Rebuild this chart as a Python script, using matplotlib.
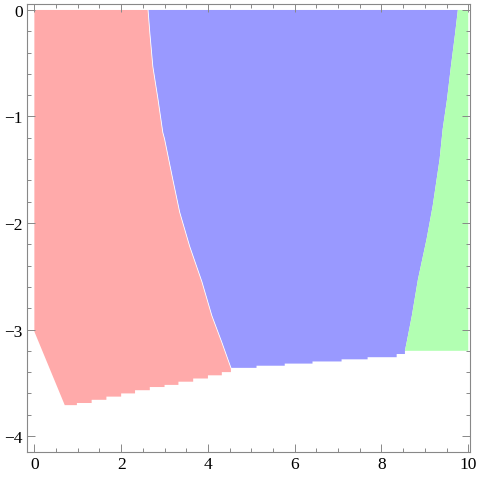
import numpy as np
import matplotlib.pyplot as plt
from matplotlib.ticker import MultipleLocator

# boundary between pink and blue regions (x at given y)
pb_y = [0.0, -0.21, -0.53, -0.84, -1.15, -1.21, -1.59, -1.90, -2.22, -2.55, -2.87, -3.12, -3.36]
pb_x = [2.62, 2.66, 2.73, 2.85, 2.96, 3.0, 3.19, 3.35, 3.58, 3.86, 4.09, 4.32, 4.53]

# boundary between blue and green regions
bg_y = [0.0, -0.21, -0.53, -0.84, -1.12, -1.40, -1.84, -2.15, -2.53, -2.87, -3.12, -3.2]
bg_x = [9.76, 9.70, 9.60, 9.51, 9.41, 9.34, 9.18, 9.04, 8.84, 8.70, 8.58, 8.54]

# left edge of pink region
pink_left_x = [0.0, 0.0, 0.70]
pink_left_y = [0.0, -3.02, -3.71]

# stair-stepped lower edges
pink_stair_x = [0.70, 0.98, 1.32, 1.66, 2.0, 2.32, 2.66, 3.0, 3.32, 3.66, 4.0, 4.32, 4.53]
pink_stair_y = [-3.71, -3.69, -3.66, -3.63, -3.60, -3.57, -3.54, -3.52, -3.49, -3.46, -3.43, -3.40, -3.37]
blue_stair_x = [4.53, 5.12, 5.77, 6.41, 7.08, 7.68, 8.35, 8.54]
blue_stair_y = [-3.36, -3.34, -3.32, -3.30, -3.28, -3.26, -3.23, -3.20]

green_right_x = 10.0
green_bottom_y = -3.2

PINK = '#FFAAAA'
BLUE = '#9999FF'
GREEN = '#B2FFB2'


def stair(xs, ys):
    px, py = [xs[0]], [ys[0]]
    for i in range(len(xs) - 1):
        px += [xs[i + 1], xs[i + 1]]
        py += [ys[i], ys[i + 1]]
    return px, py


fig = plt.figure(figsize=(4.8, 4.81), dpi=100)
ax = fig.add_axes([27 / 480, 28 / 481, 443 / 480, 448 / 481])

psx, psy = stair(pink_stair_x, pink_stair_y)
bsx, bsy = stair(blue_stair_x, blue_stair_y)

# pink
xs = [0.0] + pb_x + psx[::-1] + pink_left_x[::-1][1:]
ys = [0.0] + pb_y + psy[::-1] + pink_left_y[::-1][1:]
ax.fill(xs, ys, color=PINK, lw=0)

# blue
xs = bg_x + bsx[::-1] + pb_x[::-1]
ys = bg_y + bsy[::-1] + pb_y[::-1]
ax.fill(xs, ys, color=BLUE, lw=0)

# green
xs = [bg_x[0], green_right_x, green_right_x] + bg_x[::-1]
ys = [0.0, 0.0, green_bottom_y] + bg_y[::-1]
ax.fill(xs, ys, color=GREEN, lw=0)

ax.plot(pb_x, pb_y, color='white', lw=0.6)

ax.set_xlim(-0.17, 10.04)
ax.set_ylim(-4.15, 0.056)

ax.xaxis.set_major_locator(MultipleLocator(2))
ax.xaxis.set_minor_locator(MultipleLocator(0.5))
ax.yaxis.set_major_locator(MultipleLocator(1))
ax.yaxis.set_minor_locator(MultipleLocator(0.2))

for s in ax.spines.values():
    s.set_color('#888888')
    s.set_linewidth(0.8)
ax.tick_params(which='both', direction='in', top=True, right=True,
               color='#888888', width=0.7)
ax.tick_params(which='major', length=6, labelsize=12.5, pad=3)
ax.tick_params(which='minor', length=3)
for lab in ax.get_xticklabels() + ax.get_yticklabels():
    lab.set_family('Liberation Serif')

fig.savefig('out.png', dpi=100)
plt.close()
